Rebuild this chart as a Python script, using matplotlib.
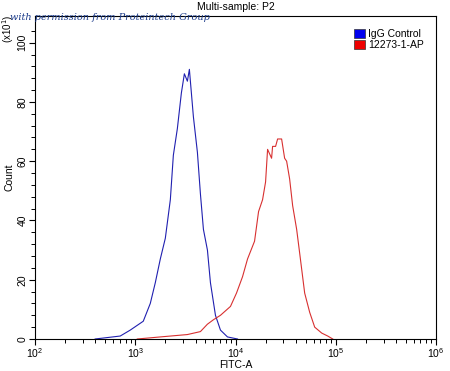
import matplotlib

matplotlib.use("Agg")
import matplotlib.pyplot as plt
import numpy as np
from matplotlib.patches import Patch
from matplotlib.ticker import FixedLocator, LogLocator, NullFormatter

# log10(FITC-A) vs count (x10^1)
igg_log = [2.60, 2.85, 2.95, 3.08, 3.15, 3.20, 3.25, 3.30, 3.35, 3.38, 3.42, 3.46,
           3.49, 3.52, 3.54, 3.58, 3.62, 3.65, 3.68, 3.72, 3.75, 3.80, 3.85, 3.92, 4.02]
igg_count = [0, 1, 3, 6, 12, 19, 27, 34, 47, 62, 71, 83,
             89.5, 87, 91, 75, 63, 49, 37, 30, 19, 8, 3, 0.7, 0]

ab_log = [3.02, 3.25, 3.52, 3.65, 3.72, 3.78, 3.85, 3.95, 4.01, 4.07, 4.12, 4.19,
          4.23, 4.27, 4.30, 4.32, 4.36, 4.37, 4.40, 4.42, 4.46, 4.49, 4.51, 4.54,
          4.57, 4.61, 4.64, 4.69, 4.74, 4.79, 4.86, 4.92, 4.97]
ab_count = [0, 0.7, 1.5, 2.5, 5, 6.5, 8, 11, 15.5, 21, 27, 33,
            43, 47, 53, 64, 61, 65, 65, 67.5, 67.5, 61, 60, 54,
            45, 37, 29, 15.5, 9, 4, 2, 1, 0]

series_names = ["IgG Control", "12273-1-AP"]
series_colors = ["#2020b0", "#d83030"]
legend_colors = ["#0000ee", "#ee0000"]

plt.rcParams["font.family"] = ["Liberation Sans", "DejaVu Sans"]

fig = plt.figure(figsize=(4.5, 3.71), dpi=100)
ax = fig.add_axes([35 / 450, 32 / 371, 401 / 450, 323 / 371])

ax.plot(10 ** np.array(igg_log), igg_count, color=series_colors[0], lw=0.8)
ax.plot(10 ** np.array(ab_log), ab_count, color=series_colors[1], lw=0.8)

ax.set_xscale("log")
ax.set_xlim(1e2, 1e6)
ax.set_ylim(0, 109)
ax.xaxis.set_major_locator(LogLocator(base=10, numticks=10))
ax.xaxis.set_minor_locator(LogLocator(base=10, subs=np.arange(2, 10), numticks=20))
ax.xaxis.set_minor_formatter(NullFormatter())
ax.yaxis.set_major_locator(FixedLocator([0, 20, 40, 60, 80, 100]))
ax.yaxis.set_minor_locator(FixedLocator(np.arange(0, 108, 4)))
ax.tick_params(which="major", length=4, width=0.8, labelsize=7.5, pad=1.5, color="black")
ax.tick_params(which="minor", length=3, width=0.7)
for lbl in ax.get_yticklabels():
    lbl.set_rotation(90)
    lbl.set_va("center")
for s in ax.spines.values():
    s.set_linewidth(0.8)

ax.set_xlabel("FITC-A", fontsize=7.5, labelpad=0)
ax.set_ylabel("Count", fontsize=7.5, labelpad=2)
ax.set_title("Multi-sample: P2", fontsize=7.5, pad=4)
fig.text(8 / 450, 1 - 29 / 371, r"(x10$^1$)", rotation=90, fontsize=7, ha="center", va="center")

handles = [Patch(facecolor=c, edgecolor="#333333", lw=0.5) for c in legend_colors]
ax.legend(handles, series_names, loc="upper right", frameon=False, fontsize=7.5,
          handlelength=1.0, handleheight=1.0, handletextpad=0.3, labelspacing=0.1,
          borderaxespad=0.8)

fig.text(10 / 450, 1 - 17 / 371, "with permission from Proteintech Group", fontsize=7,
         family="DejaVu Serif", style="italic", color="#1a3a8a", ha="left", va="center")

fig.savefig("out.png", dpi=100)
